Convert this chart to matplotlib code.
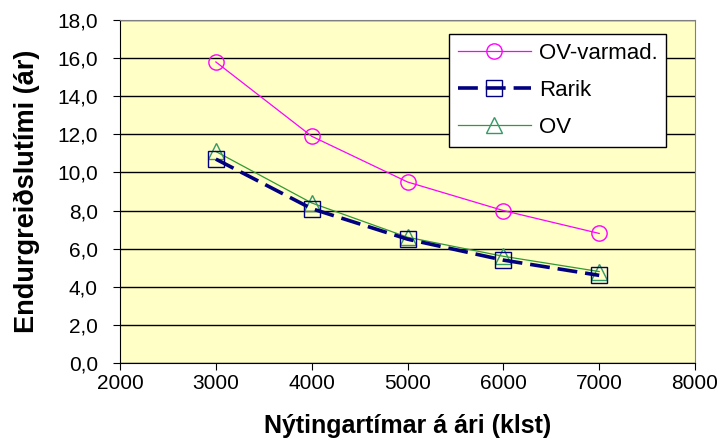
import matplotlib
matplotlib.use("Agg")
import matplotlib.pyplot as plt
from matplotlib.ticker import FuncFormatter

plt.rcParams['font.family'] = ['Liberation Sans', 'DejaVu Sans']

# Data
hours = [3000, 4000, 5000, 6000, 7000]
ov_varmad = [15.8, 11.9, 9.5, 8.0, 6.8]
rarik = [10.7, 8.1, 6.5, 5.4, 4.6]
ov = [11.1, 8.4, 6.6, 5.6, 4.8]

fig = plt.figure(figsize=(7.2, 4.43), dpi=100)
ax = fig.add_axes([0.1667, 0.1806, 0.7986, 0.7742])
ax.set_facecolor('#FFFFC6')

ax.plot(hours, ov_varmad, color='#FF00FF', lw=0.9, marker='o', ms=11,
        mfc='none', mec='#FF00FF', mew=1.0, label='OV-varmad.', zorder=3)
ax.plot(hours, rarik, color='#000080', lw=2.6, ls=(0, (5.5, 2.2)), marker='s', ms=11,
        mfc='none', mec='#000080', mew=1.0, label='Rarik', zorder=4)
ax.plot(hours, ov, color='#339933', lw=0.9, marker='^', ms=11,
        mfc='none', mec='#339966', mew=1.0, label='OV', zorder=3)

ax.set_xlim(2000, 8000)
ax.set_ylim(0, 18)
ax.set_xticks(range(2000, 8001, 1000))
ax.set_yticks(range(0, 19, 2))
ax.yaxis.set_major_formatter(FuncFormatter(lambda v, p: f'{v:.1f}'.replace('.', ',')))
ax.grid(axis='y', color='black', lw=1)
ax.set_axisbelow(True)
for s in ['top', 'right']:
    ax.spines[s].set_color('#808080')
for s in ['left', 'bottom']:
    ax.spines[s].set_color('black')
ax.tick_params(axis='both', labelsize=15, direction='out', length=5, colors='black')
ax.tick_params(axis='x', pad=3)
ax.tick_params(axis='y', pad=11)

ax.set_xlabel('Nýtingartímar á ári (klst)', fontsize=18, fontweight='bold', labelpad=15)
ax.set_ylabel('Endurgreiðslutími (ár)', fontsize=19.5, fontweight='bold', labelpad=12)

leg = ax.legend(loc='upper right', bbox_to_anchor=(0.95, 0.96), fontsize=16,
                fancybox=False, framealpha=1, edgecolor='black', handlelength=3.3,
                borderpad=0.4, labelspacing=0.73, handletextpad=0.35, borderaxespad=0)
leg.get_frame().set_linewidth(1.0)

fig.savefig('out.png', dpi=100)
